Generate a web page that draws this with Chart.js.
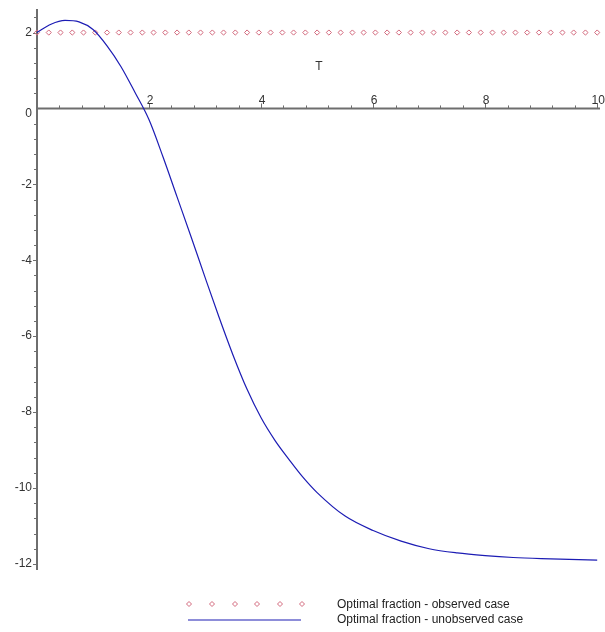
<!DOCTYPE html>
<html lang="en">
<head>
<meta charset="UTF-8">
<title>Optimal fraction</title>
<script src="https://cdn.jsdelivr.net/npm/chart.js"></script>
<style>
  body { margin: 0; background: #fff; }
  canvas { display: block; }
</style>
</head>
<body>
<canvas id="myChart" width="605" height="632"></canvas>
<script>
// values
const tValues = [0, 0.25, 0.5, 0.75, 1.0, 1.25, 1.5, 1.75, 2.0, 2.25, 2.5, 2.75, 3.0, 3.25, 3.5, 3.75,
  4.0, 4.25, 4.5, 4.75, 5.0, 5.5, 6.0, 6.5, 7.0, 7.5, 8.0, 8.5, 9.0, 9.5, 10];
const unobserved = [2.0, 2.22, 2.32, 2.28, 2.08, 1.65, 1.1, 0.42, -0.3, -1.28, -2.33, -3.38, -4.45, -5.5, -6.5, -7.4,
  -8.15, -8.75, -9.25, -9.72, -10.12, -10.74, -11.12, -11.4, -11.6, -11.71, -11.78, -11.83, -11.86, -11.88, -11.9];

const observedT = [0, 0.21, 0.42, 0.63, 0.83, 1.04, 1.25, 1.46, 1.67, 1.88, 2.08, 2.29, 2.5, 2.71, 2.92, 3.13,
  3.33, 3.54, 3.75, 3.96, 4.17, 4.38, 4.58, 4.79, 5.0, 5.21, 5.42, 5.63, 5.83, 6.04, 6.25, 6.46, 6.67, 6.88,
  7.08, 7.29, 7.5, 7.71, 7.92, 8.13, 8.33, 8.54, 8.75, 8.96, 9.17, 9.38, 9.58, 9.79, 10];
const observed = [2, 2, 2, 2, 2, 2, 2, 2, 2, 2, 2, 2, 2, 2, 2, 2, 2, 2, 2, 2, 2, 2, 2, 2, 2, 2, 2, 2, 2, 2,
  2, 2, 2, 2, 2, 2, 2, 2, 2, 2, 2, 2, 2, 2, 2, 2, 2, 2, 2];

const xTicks = [2, 4, 6, 8, 10];
const yTicks = [2, 0, -2, -4, -6, -8, -10, -12];
const axisTitle = 'T';
const legendLabels = ['Optimal fraction - observed case', 'Optimal fraction - unobserved case'];

const redCol = '#d2687c';
const blueCol = '#1c1cb4';
const axisCol = '#6e6e6e';
const txtCol = '#333';

// draws Maple-style crossing axes, the "T" title and the legend underneath
const mapleAxes = {
  id: 'mapleAxes',
  beforeDatasetsDraw(chart) {
    const c = chart.ctx;
    const xs = chart.scales.x, ys = chart.scales.y;
    const x0 = xs.getPixelForValue(0), y0 = ys.getPixelForValue(0);
    c.save();
    c.strokeStyle = axisCol;
    c.lineWidth = 2;
    c.beginPath();
    c.moveTo(xs.left, y0); c.lineTo(xs.right, y0);
    c.moveTo(x0, ys.top); c.lineTo(x0, ys.bottom);
    c.stroke();

    c.lineWidth = 1;
    c.beginPath();
    for (let i = 1; i <= 25; i++) {
      const px = Math.round(xs.getPixelForValue(i * 0.4)) + 0.5;
      const len = i % 5 === 0 ? 5 : 3;
      c.moveTo(px, y0); c.lineTo(px, y0 - len);
    }
    for (let i = -30; i <= 6; i++) {
      if (i === 0) continue;
      const py = Math.round(ys.getPixelForValue(i * 0.4)) + 0.5;
      const len = i % 5 === 0 ? 4 : 3;
      c.moveTo(x0, py); c.lineTo(x0 - len, py);
    }
    c.stroke();

    c.fillStyle = txtCol;
    c.font = '12px "Liberation Sans", Arial, sans-serif';
    c.textAlign = 'center';
    c.textBaseline = 'middle';
    xTicks.forEach(v => c.fillText(String(v), xs.getPixelForValue(v) + 1, y0 - 8));
    c.textAlign = 'right';
    yTicks.forEach(v => {
      const off = v === 0 ? 5 : 0;
      c.fillText(String(v), x0 - 5, ys.getPixelForValue(v) + off);
    });
    c.textAlign = 'center';
    c.fillText(axisTitle, 319, 67);

    // legend
    c.textAlign = 'left';
    c.fillStyle = '#222';
    c.fillText(legendLabels[0], 337, 605);
    c.fillText(legendLabels[1], 337, 620);
    c.strokeStyle = redCol;
    c.lineWidth = 1;
    [189, 212, 235, 257, 280, 302].forEach(px => {
      c.beginPath();
      c.moveTo(px, 601.5); c.lineTo(px + 2.5, 604); c.lineTo(px, 606.5); c.lineTo(px - 2.5, 604);
      c.closePath();
      c.stroke();
    });
    c.strokeStyle = blueCol;
    c.lineWidth = 1.2;
    c.beginPath();
    c.moveTo(188, 620); c.lineTo(301, 620);
    c.stroke();
    c.restore();
  }
};

const ctx = document.getElementById('myChart');

new Chart(ctx, {
  type: 'scatter',
  data: {
    datasets: [
      {
        label: legendLabels[1],
        data: tValues.map((t, i) => ({ x: t, y: unobserved[i] })),
        showLine: true,
        borderColor: blueCol,
        borderWidth: 1.2,
        pointRadius: 0,
        cubicInterpolationMode: 'monotone',
        clip: false
      },
      {
        label: legendLabels[0],
        data: observedT.map((t, i) => ({ x: t, y: observed[i] })),
        showLine: false,
        pointStyle: 'rectRot',
        pointRadius: 2.6,
        borderWidth: 1,
        borderColor: redCol,
        backgroundColor: 'rgba(255,255,255,0)',
        clip: false
      }
    ]
  },
  options: {
    responsive: false,
    animation: false,
    events: [],
    layout: { padding: { left: 37, right: 5, top: 9, bottom: 62 } },
    plugins: { legend: { display: false }, tooltip: { enabled: false } },
    scales: {
      x: { type: 'linear', min: 0, max: 10.05, display: false },
      y: { type: 'linear', min: -12.16, max: 2.62, display: false }
    }
  },
  plugins: [mapleAxes]
});
</script>
</body>
</html>
